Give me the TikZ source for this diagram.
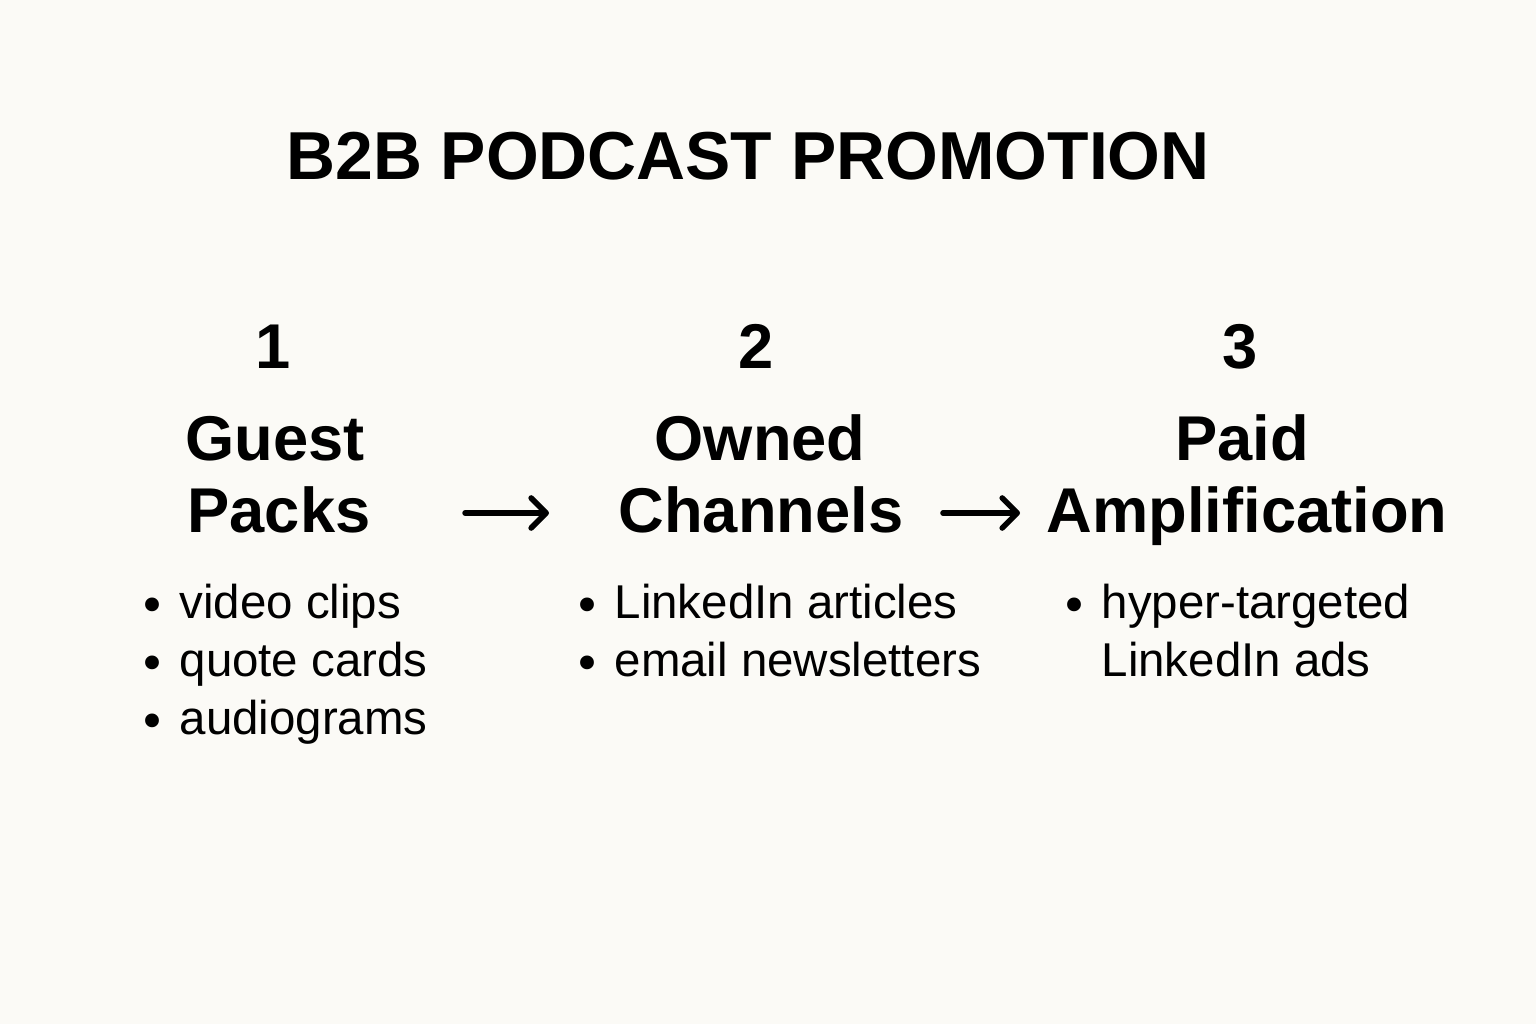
\documentclass[tikz,border=0pt]{standalone}
\usepackage{fontspec}
\setmainfont{Liberation Sans}
\newfontfamily\dotfont{DejaVu Sans}
\usepackage{tikz}
\usetikzlibrary{arrows.meta}

\definecolor{paper}{HTML}{FBFAF6}
\newcommand{\bul}{\makebox[3.8mm][l]{\hspace{-0.8pt}\raisebox{-1.4pt}{\dotfont •}}}

\begin{document}
\begin{tikzpicture}[line width = 1.5pt,
				title/.style = {anchor = base, font = \fontsize{19.3}{23}\selectfont\bfseries},
				stepnum/.style = {anchor = base, font = \fontsize{18}{22}\selectfont\bfseries},
				head/.style = {anchor = base, inner sep = 0pt, font = \fontsize{18}{22}\selectfont\bfseries},
				item/.style = {anchor = base west, inner sep = 0pt, font = \fontsize{13.5}{16}\selectfont},
				flow/.style = {-{Straight Barb[length=1.5mm, width=3mm, round]}, line width = 1.6pt, line cap = round}]

				\fill [paper] (0,0) rectangle (15.36,10.24);
				\useasboundingbox (0,0) rectangle (15.36,10.24);

				\node [title] (title) at (7.48,8.44) {B2B PODCAST PROMOTION};

				\node [stepnum] (n_1) at (2.73,6.56) {1};
				\node [stepnum] (n_2) at (7.56,6.56) {2};
				\node [stepnum] (n_3) at (12.40,6.56) {3};

				\node [head] (h_1a) at (2.75,5.64) {Guest};
				\node [head] (h_1b) at (2.79,4.92) {Packs};
				\node [head] (h_2a) at (7.60,5.64) {Owned};
				\node [head] (h_2b) at (7.61,4.92) {Channels};
				\node [head] (h_3a) at (12.42,5.64) {Paid};
				\node [head] (h_3b) at (12.47,4.92) {Amplification};

				\draw [flow, shorten <= 0.92cm, shorten >= 0.67cm] ([yshift=0.19cm]h_1b.base east) -- ([yshift=0.19cm]h_2b.base west);
				\draw [flow, shorten <= 0.37cm, shorten >= 0.24cm] ([yshift=0.19cm]h_2b.base east) -- ([yshift=0.19cm]h_3b.base west);

				\node [item] (i_1) at (1.39,4.06) {\bul video clips};
				\node [item] (i_2) at (1.39,3.48) {\bul quote cards};
				\node [item] (i_3) at (1.39,2.90) {\bul audiograms};

				\node [item] (i_4) at (5.74,4.06) {\bul LinkedIn articles};
				\node [item] (i_5) at (5.74,3.48) {\bul email newsletters};

				\node [item] (i_6) at (10.61,4.06) {\bul hyper-targeted};
				\node [item] (i_7) at (10.61,3.48) {\hphantom{\bul}LinkedIn ads};
			\end{tikzpicture}
\end{document}
